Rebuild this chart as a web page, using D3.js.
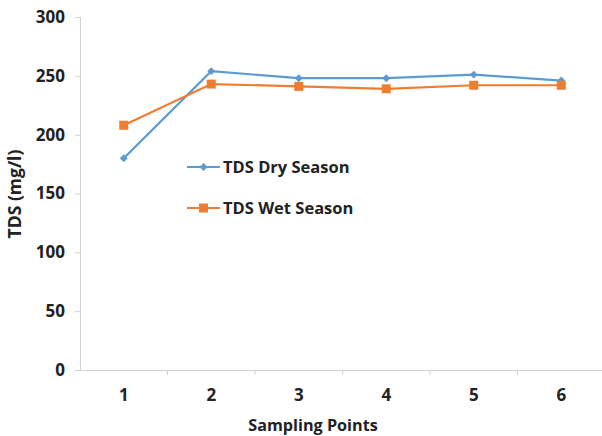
<!DOCTYPE html>
<html>
<head>
<meta charset="utf-8">
<script src="https://cdn.jsdelivr.net/npm/d3@7"></script>
<style>
  body { margin: 0; background: #fff; }
  text { font-family: "Open Sans", Lato, sans-serif; font-weight: bold; fill: #222; }
</style>
</head>
<body>
<svg id="chart" width="602" height="436"></svg>
<script>
const points = ['1', '2', '3', '4', '5', '6'];
const dryValues = [180, 254, 248, 248, 251, 246];
const wetValues = [208, 243, 241, 239, 242, 242];
const yTicks = [0, 50, 100, 150, 200, 250, 300];

const series = [
  { name: 'TDS Dry Season', values: dryValues, color: '#5b9bd5', marker: 'diamond', ly: 167 },
  { name: 'TDS Wet Season', values: wetValues, color: '#ed7d31', marker: 'square', ly: 208 }
];

const svg = d3.select('#chart');
const margin = { left: 80, top: 17, right: -3, bottom: 66 };
const width = 602 - margin.left - margin.right;
const height = 436 - margin.top - margin.bottom;

const x = d3.scaleBand().domain(points).range([0, width]);
const y = d3.scaleLinear().domain([0, 300]).range([height, 0]);

const g = svg.append('g').attr('transform', `translate(${margin.left},${margin.top})`);

// axes
const yAxis = g.append('g').call(d3.axisLeft(y).tickValues(yTicks).tickSize(5).tickPadding(10));
const xAxis = g.append('g').attr('transform', `translate(0,${height})`)
  .call(d3.axisBottom(x).tickSize(0).tickPadding(19));
xAxis.selectAll('.tick').append('line')
  .attr('x1', x.bandwidth() / 2).attr('x2', x.bandwidth() / 2)
  .attr('y1', 0).attr('y2', 5).attr('stroke', '#d0d0d0');
for (const ax of [yAxis, xAxis]) {
  ax.select('.domain').attr('stroke', '#d0d0d0');
  ax.selectAll('.tick line').attr('stroke', '#d0d0d0');
  ax.selectAll('.tick text').style('font-size', '17px').attr('fill', '#222');
}

// axis titles
svg.append('text')
  .attr('transform', 'translate(21,194) rotate(-90)')
  .attr('text-anchor', 'middle').style('font-size', '17.5px')
  .text('TDS (mg/l)');
svg.append('text')
  .attr('x', 313).attr('y', 431)
  .attr('text-anchor', 'middle').style('font-size', '16.2px')
  .text('Sampling Points');

const line = d3.line()
  .x((d, i) => x(points[i]) + x.bandwidth() / 2)
  .y(d => y(d));

function drawMarker(sel, type, color) {
  if (type === 'diamond') {
    sel.append('path').attr('d', d3.symbol(d3.symbolDiamond2, 40)()).attr('fill', color);
  } else {
    sel.append('rect').attr('x', -4.5).attr('y', -4.5).attr('width', 9).attr('height', 9).attr('fill', color);
  }
}

for (const s of series) {
  g.append('path').datum(s.values)
    .attr('fill', 'none').attr('stroke', s.color).attr('stroke-width', 2.2)
    .attr('d', line);
  g.selectAll(null).data(s.values).join('g')
    .attr('transform', (d, i) => `translate(${x(points[i]) + x.bandwidth() / 2},${y(d)})`)
    .each(function() { drawMarker(d3.select(this), s.marker, s.color); });

  // legend
  const lg = svg.append('g').attr('transform', `translate(187,${s.ly})`);
  lg.append('line').attr('x1', 0).attr('x2', 33).attr('stroke', s.color).attr('stroke-width', 2.2);
  lg.append('g').attr('transform', 'translate(16.5,0)').call(sel => drawMarker(sel, s.marker, s.color));
  lg.append('text').attr('x', 36).attr('y', 6).style('font-size', '16.5px').text(s.name);
}
</script>
</body>
</html>
